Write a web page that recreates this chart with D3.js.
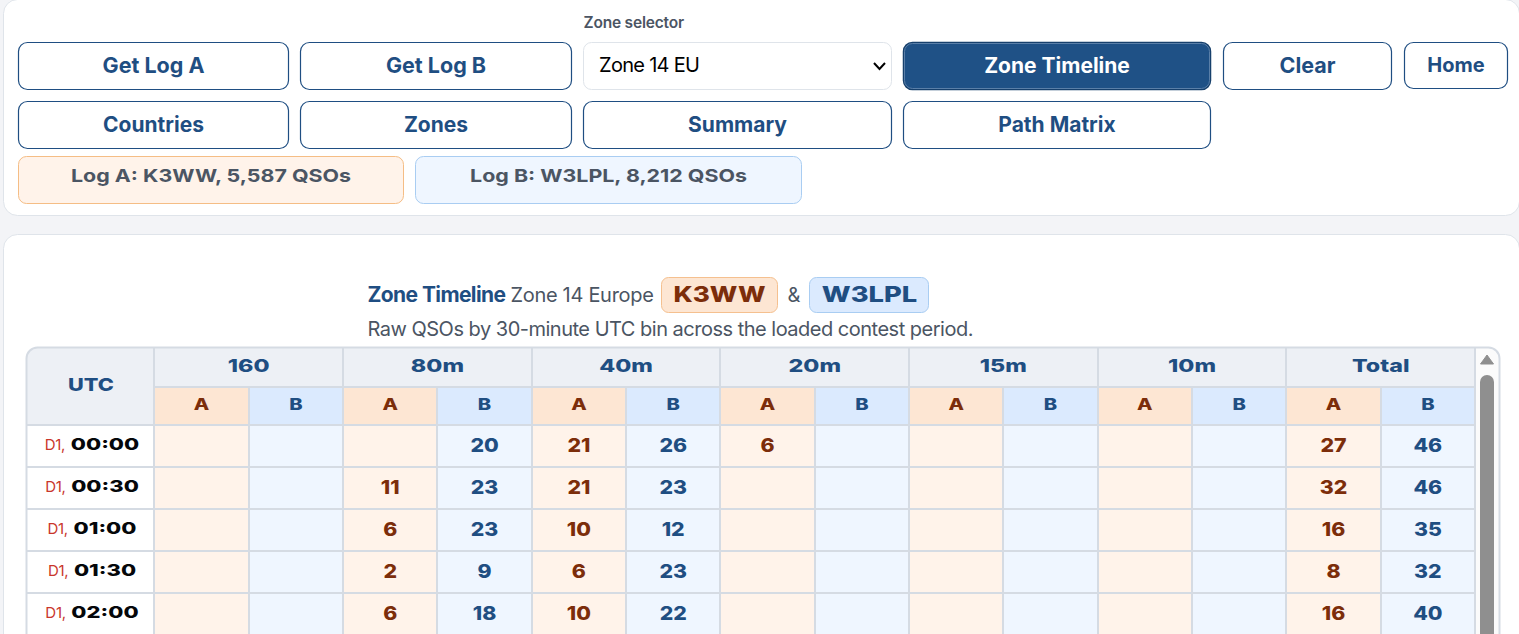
<!DOCTYPE html>
<html>
<head>
<meta charset="utf-8">
<script src="https://cdn.jsdelivr.net/npm/d3@7"></script>
<style>
html, body { margin: 0; padding: 0; background: #f3f4f7; overflow: hidden; }
svg { display: block; }
text { font-family: Inter, "Liberation Sans", sans-serif; }
</style>
</head>
<body>
<svg id="chart"></svg>
<script>
const width = 1519;
const height = 634;
const svg = d3.select("#chart").attr("width", width).attr("height", height);

const bands = ["160", "80m", "40m", "20m", "15m", "10m", "Total"];
const logs = ["A", "B"];
const utcDays = ["D1,", "D1,", "D1,", "D1,", "D1,"];
const utcTimes = ["00:00", "00:30", "01:00", "01:30", "02:00"];

const a160 = [null, null, null, null, null];
const b160 = [null, null, null, null, null];
const a80 = [null, 11, 6, 2, 6];
const b80 = [20, 23, 23, 9, 18];
const a40 = [21, 21, 10, 6, 10];
const b40 = [26, 23, 12, 23, 22];
const a20 = [6, null, null, null, null];
const b20 = [null, null, null, null, null];
const a15 = [null, null, null, null, null];
const b15 = [null, null, null, null, null];
const a10 = [null, null, null, null, null];
const b10 = [null, null, null, null, null];
const totalA = [27, 32, 16, 8, 16];
const totalB = [46, 46, 35, 32, 40];
const series = [a160, b160, a80, b80, a40, b40, a20, b20, a15, b15, a10, b10, totalA, totalB];

const navy = "#1f4e82";
const rust = "#7c2d0a";
const slate = "#4b5563";
const grid = "#d5dbe3";

// page panels
const panels = [[3, -1, 1516, 216], [3, 234, 1516, 440]];
svg.selectAll("rect.panel")
  .data(panels)
  .join("rect")
  .attr("class", "panel")
  .attr("x", d => d[0] + 0.5)
  .attr("y", d => d[1] + 0.5)
  .attr("width", d => d[2])
  .attr("height", d => d[3])
  .attr("rx", 14)
  .attr("fill", "#fff")
  .attr("stroke", "#dfe4ea");

function wideText(parent, str, x, y, size, stretch, color, weight = 800) {
  return parent.append("text")
    .attr("transform", `translate(${x},${y}) scale(${stretch},1)`)
    .attr("text-anchor", "middle")
    .attr("font-size", size)
    .attr("font-weight", weight)
    .attr("fill", color)
    .text(str);
}

function button(label, x, y, w, h, size, active) {
  svg.append("rect")
    .attr("x", x + 0.5).attr("y", y + 0.5)
    .attr("width", w - 1).attr("height", h - 1)
    .attr("rx", 9)
    .attr("fill", active ? "#1f5186" : "#fff")
    .attr("stroke", active ? "#17406c" : navy)
    .attr("stroke-width", active ? 1.5 : 1.2);
  if (active) {
    svg.append("rect")
      .attr("x", x + 1.5).attr("y", y + 1.5)
      .attr("width", w - 3).attr("height", h - 3)
      .attr("rx", 8)
      .attr("fill", "none")
      .attr("stroke", "#5a7fa8");
  }
  svg.append("text")
    .attr("x", x + w / 2)
    .attr("y", y + h / 2 + 6.5)
    .attr("text-anchor", "middle")
    .attr("font-family", "Liberation Sans")
    .attr("font-size", size)
    .attr("font-weight", 700)
    .attr("fill", active ? "#fff" : navy)
    .text(label);
}

button("Get Log A", 18, 42, 271, 48, 21.5);
button("Get Log B", 300, 42, 272, 48, 21.5);
button("Zone Timeline", 903, 42, 308, 48, 21, true);
button("Clear", 1223, 42, 169, 48, 21.5);
button("Home", 1404, 42, 104, 47, 20);
button("Countries", 18, 101, 271, 48, 21);
button("Zones", 300, 101, 272, 48, 21);
button("Summary", 583, 101, 309, 48, 21);
button("Path Matrix", 903, 101, 308, 48, 21);

// zone selector
svg.append("text").attr("x", 583.5).attr("y", 28)
  .attr("font-size", 15.5).attr("font-weight", 600).attr("fill", slate).attr("letter-spacing", -0.2)
  .text("Zone selector");
svg.append("rect")
  .attr("x", 583.5).attr("y", 42.5).attr("width", 308).attr("height", 47).attr("rx", 8)
  .attr("fill", "#fff").attr("stroke", "#dfe4ea");
svg.append("text").attr("x", 599).attr("y", 72)
  .attr("font-size", 20).attr("fill", "#000").attr("letter-spacing", -0.7)
  .text("Zone 14 EU");
svg.append("path")
  .attr("d", "M874 63l5.5 6 5.5-6")
  .attr("fill", "none").attr("stroke", "#000").attr("stroke-width", 2);

// log chips
const chips = [
  { text: "Log A: K3WW, 5,587 QSOs", x: 18, w: 386, fill: "#fff3ea", stroke: "#f5bd85" },
  { text: "Log B: W3LPL, 8,212 QSOs", x: 415, w: 387, fill: "#eff6ff", stroke: "#a9cdf2" }
];
chips.forEach(c => {
  svg.append("rect")
    .attr("x", c.x + 0.5).attr("y", 156.5).attr("width", c.w - 1).attr("height", 47).attr("rx", 8)
    .attr("fill", c.fill).attr("stroke", c.stroke);
  wideText(svg, c.text, c.x + c.w / 2, 182, 18, 1.19, slate, 700);
});

// title block
const title = svg.append("text").attr("x", 367.5).attr("y", 302).attr("font-size", 21).attr("letter-spacing", -0.6);
title.append("tspan").attr("font-weight", 700).attr("fill", navy).text("Zone Timeline");
title.append("tspan").attr("dx", 5).attr("fill", slate).attr("font-size", 20).attr("letter-spacing", -0.3).text("Zone 14 Europe");

svg.append("rect").attr("x", 661.5).attr("y", 277.5).attr("width", 116).attr("height", 35).attr("rx", 7)
  .attr("fill", "#fde6d3").attr("stroke", "#f5c08f");
wideText(svg, "K3WW", 719.5, 302, 21, 1.24, rust);
svg.append("text").attr("x", 794).attr("y", 302).attr("text-anchor", "middle")
  .attr("font-size", 20).attr("fill", slate).text("&");
svg.append("rect").attr("x", 809.5).attr("y", 277.5).attr("width", 119).attr("height", 35).attr("rx", 7)
  .attr("fill", "#dbeafe").attr("stroke", "#a9cdf2");
wideText(svg, "W3LPL", 869.5, 302, 21, 1.3, navy);
svg.append("text").attr("x", 367.5).attr("y", 336)
  .attr("font-size", 20).attr("fill", slate).attr("letter-spacing", -0.5)
  .text("Raw QSOs by 30-minute UTC bin across the loaded contest period.");

// table scales
const x = d3.scaleBand().domain(d3.range(series.length)).range([154.4, 1475]);
const y = d3.scaleBand().domain(utcTimes).range([425, 425 + 42 * utcTimes.length]);
const tableLeft = 27;
const headerTop = 348;
const headerMid = 387;

svg.append("clipPath").attr("id", "tableClip")
  .append("rect")
  .attr("x", tableLeft - 1).attr("y", headerTop - 1)
  .attr("width", 1500 - tableLeft + 1).attr("height", 320).attr("rx", 11);

const table = svg.append("g").attr("clip-path", "url(#tableClip)");

// scrollbar track
table.append("rect")
  .attr("x", 1475).attr("y", headerTop)
  .attr("width", 25).attr("height", 300)
  .attr("fill", "#fbfbfb");

table.append("rect")
  .attr("x", tableLeft).attr("y", headerTop)
  .attr("width", 127).attr("height", y.range()[0] - headerTop)
  .attr("fill", "#edf0f5");
wideText(table, "UTC", 91, 391, 17.5, 1.24, navy);

// band header
table.selectAll("rect.band")
  .data(bands)
  .join("rect")
  .attr("class", "band")
  .attr("x", (d, i) => x(i * 2))
  .attr("y", headerTop)
  .attr("width", x.bandwidth() * 2)
  .attr("height", headerMid - headerTop)
  .attr("fill", "#edf0f5");
bands.forEach((b, i) => {
  wideText(table, b, x(i * 2) + x.bandwidth(), 372, 17.5, 1.33, navy);
});

// A / B header + body cells
series.forEach((vals, c) => {
  const isA = c % 2 === 0;
  table.append("rect")
    .attr("x", x(c)).attr("y", headerMid)
    .attr("width", x.bandwidth()).attr("height", y.range()[0] - headerMid)
    .attr("fill", isA ? "#fde6d3" : "#dbeafe");
  wideText(table, logs[c % 2], x(c) + x.bandwidth() / 2, 410, 15.5, 1.3, isA ? rust : navy);

  const col = table.append("g");
  col.selectAll("rect")
    .data(vals)
    .join("rect")
    .attr("x", x(c))
    .attr("y", (d, i) => y(utcTimes[i]))
    .attr("width", x.bandwidth())
    .attr("height", y.bandwidth())
    .attr("fill", isA ? "#fff3ea" : "#eff6ff");
  vals.forEach((v, i) => {
    if (v === null) return;
    wideText(col, v, x(c) + x.bandwidth() / 2, y(utcTimes[i]) + 26.5, 19, 1.12, isA ? rust : navy);
  });
});

// UTC labels, day and time centred together in the column
utcTimes.forEach((t, i) => {
  table.append("rect")
    .attr("x", tableLeft).attr("y", y(t))
    .attr("width", 127).attr("height", y.bandwidth())
    .attr("fill", "#fff");
  const stretch = 1.33;
  const timeText = wideText(table, t, 0, y(t) + 24.5, 16.5, stretch, "#05070a");
  const timeWidth = timeText.node().getComputedTextLength() * stretch;
  const dayWidth = 21;
  const gap = 5;
  const start = 92 - (dayWidth + gap + timeWidth) / 2;
  timeText.attr("transform", `translate(${start + dayWidth + gap + timeWidth / 2},${y(t) + 24.5}) scale(${stretch},1)`);
  table.append("text")
    .attr("x", start).attr("y", y(t) + 25)
    .attr("font-size", 15).attr("fill", "#c9362b").attr("letter-spacing", -0.3)
    .text(utcDays[i]);
});

// grid lines
const vLines = [154].concat(x.domain().map(i => Math.round(x(i) + x.bandwidth())));
table.selectAll("line.v")
  .data(vLines)
  .join("line")
  .attr("class", "v")
  .attr("x1", d => d).attr("x2", d => d)
  .attr("y1", (d, i) => i % 2 === 0 ? headerTop : headerMid)
  .attr("y2", height)
  .attr("stroke", grid).attr("stroke-width", 2);
table.selectAll("line.h")
  .data(utcTimes.map(t => y(t)))
  .join("line")
  .attr("class", "h")
  .attr("x1", tableLeft).attr("x2", 1475)
  .attr("y1", d => d).attr("y2", d => d)
  .attr("stroke", grid).attr("stroke-width", 2);
utcTimes.forEach(t => {
  table.append("line")
    .attr("x1", tableLeft).attr("x2", 1475)
    .attr("y1", y(t) + y.bandwidth()).attr("y2", y(t) + y.bandwidth())
    .attr("stroke", grid).attr("stroke-width", 2);
});
table.append("line")
  .attr("x1", 154).attr("x2", 1475)
  .attr("y1", headerMid).attr("y2", headerMid)
  .attr("stroke", grid).attr("stroke-width", 2);

// scrollbar
table.append("path").attr("d", "M1480.5 364l6.5-9 6.5 9z").attr("fill", "#8f8f8f").attr("stroke", "#8f8f8f").attr("stroke-linejoin", "round");
table.append("rect").attr("x", 1480).attr("y", 375).attr("width", 14).attr("height", 280).attr("rx", 7).attr("fill", "#8f8f8f");

// table frame on top
svg.append("rect")
  .attr("x", tableLeft - 0.5).attr("y", headerTop - 0.5)
  .attr("width", 1500 - tableLeft).attr("height", 320).attr("rx", 11)
  .attr("fill", "none").attr("stroke", grid).attr("stroke-width", 2);
</script>
</body>
</html>
